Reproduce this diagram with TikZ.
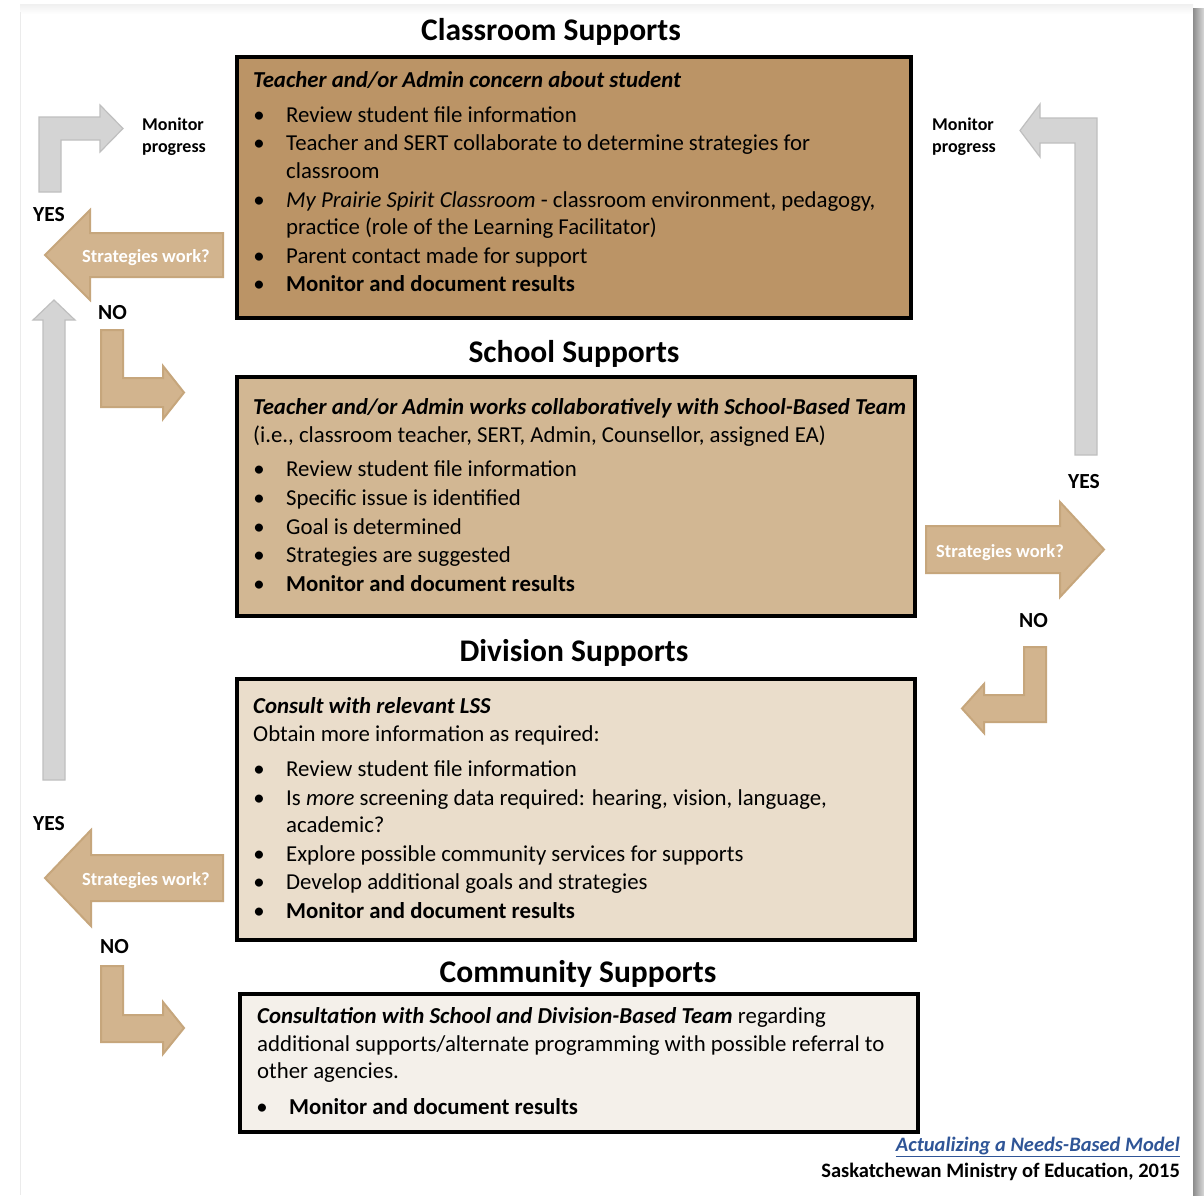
\documentclass[tikz,border=0pt]{standalone}
\usepackage{fontspec}
\setmainfont{Carlito}
\definecolor{boxA}{HTML}{BB9466}
\definecolor{boxB}{HTML}{D2B793}
\definecolor{boxC}{HTML}{EADDCB}
\definecolor{boxD}{HTML}{F4F0EA}
\definecolor{arrowtan}{HTML}{D2B48E}
\definecolor{arrowtanline}{HTML}{C6A67C}
\definecolor{arrowgray}{HTML}{D4D4D4}
\definecolor{arrowgrayline}{HTML}{BFBFBF}
\definecolor{linkblue}{HTML}{2F5597}
\tikzset{
  body/.style={anchor=base west, inner sep=0pt, font=\fontsize{22.8}{27}\selectfont},
  dot/.style={anchor=base, inner sep=0pt, font=\fontsize{22.8}{27}\selectfont},
  title/.style={anchor=base, inner sep=0pt, font=\fontsize{31.5}{36}\selectfont\bfseries},
  tag/.style={anchor=base west, inner sep=0pt, font=\fontsize{21.5}{25}\selectfont\bfseries},
  mon/.style={anchor=base west, inner sep=0pt, font=\fontsize{18}{22}\selectfont\bfseries},
  qlabel/.style={anchor=base, inner sep=0pt, text=white, font=\fontsize{18.5}{22}\selectfont\bfseries},
  foot/.style={anchor=base east, inner sep=0pt, font=\fontsize{20.5}{24}\selectfont\bfseries},
  panel/.style={draw=black, line width=4pt, anchor=north west, inner sep=0pt},
  tanarrow/.style={fill=arrowtan, draw=arrowtanline, line width=2pt},
  grayarrow/.style={fill=arrowgray, draw=arrowgrayline, line width=1.2pt},
}
% bullet item: name, x of bullet, x of text, baseline, text
\newcommand\bitem[5]{%
  \node[dot] (#1-b) at (#2,#4) {•};
  \node[body] (#1) at (#3,#4) {#5};}
\begin{document}
\begin{tikzpicture}[x=1pt,y=-1pt]
\useasboundingbox (0,0) rectangle (1204,1195);
\fill[white] (0,0) rectangle (1204,1195);
% page edges
\shade[top color=black!6, bottom color=white] (20,4) rectangle (1193,14);
\draw[black!8, line width=1pt] (20,12) -- (20,1195);
\shade[left color=black!45, right color=black!15] (1193,8) rectangle (1204,1195);

% ---------------- titles ----------------
\node[title] (t1) at (551,40) {Classroom Supports};
\node[title] (t2) at (574,362) {School Supports};
\node[title] (t3) at (574,661) {Division Supports};
\node[title] (t4) at (578,982) {Community Supports};

% ---------------- panels ----------------
\node[panel, fill=boxA, minimum width=674pt, minimum height=261pt] (classroom) at (235,55) {};
\node[panel, fill=boxB, minimum width=678pt, minimum height=239pt] (school) at (235,375) {};
\node[panel, fill=boxC, minimum width=678pt, minimum height=261pt] (division) at (235,677) {};
\node[panel, fill=boxD, minimum width=678pt, minimum height=138pt] (community) at (238,992) {};

% classroom text
\node[body] (c0) at (253,87) {\textbf{\textit{Teacher and/or Admin concern about student}}};
\bitem{c1}{259}{286}{122}{Review student file information}
\bitem{c2}{259}{286}{150}{Teacher and SERT collaborate to determine strategies for}
\node[body] (c2b) at (286,178) {classroom};
\bitem{c3}{259}{286}{207}{\textit{My Prairie Spirit Classroom} - classroom environment, pedagogy,}
\node[body] (c3b) at (286,234) {practice (role of the Learning Facilitator)};
\bitem{c4}{259}{286}{263}{Parent contact made for support}
\bitem{c5}{259}{286}{291}{\textbf{Monitor and document results}}

% school text
\node[body] (s0) at (253,414) {\textbf{\textit{Teacher and/or Admin works collaboratively with School-Based Team}}};
\node[body] (s0b) at (253,442) {(i.e., classroom teacher, SERT, Admin, Counsellor, assigned EA)};
\bitem{s1}{259}{286}{476}{Review student file information}
\bitem{s2}{259}{286}{505}{Specific issue is identified}
\bitem{s3}{259}{286}{534}{Goal is determined}
\bitem{s4}{259}{286}{562}{Strategies are suggested}
\bitem{s5}{259}{286}{591}{\textbf{Monitor and document results}}

% division text
\node[body] (d0) at (253,713) {\textbf{\textit{Consult with relevant LSS}}};
\node[body] (d0b) at (253,741) {Obtain more information as required:};
\bitem{d1}{259}{286}{776}{Review student file information}
\bitem{d2}{259}{286}{805}{Is \textit{more} screening data required: hearing, vision, language,}
\node[body] (d2b) at (286,832) {academic?};
\bitem{d3}{259}{286}{861}{Explore possible community services for supports}
\bitem{d4}{259}{286}{889}{Develop additional goals and strategies}
\bitem{d5}{259}{286}{918}{\textbf{Monitor and document results}}

% community text
\node[body] (m0) at (257,1023) {\textbf{\textit{Consultation with School and Division-Based Team}} regarding};
\node[body] (m0b) at (257,1051) {additional supports/alternate programming with possible referral to};
\node[body] (m0c) at (257,1078) {other agencies.};
\bitem{m1}{262}{289}{1114}{\textbf{Monitor and document results}}

% ---------------- left side arrows ----------------
\draw[grayarrow] (39,192) -- (39,117) -- (100,117) -- (100,105) -- (123,128.5) -- (100,152) -- (100,140) -- (61,140) -- (61,192) -- cycle;
\node[mon] (monL1) at (142,130) {Monitor};
\node[mon] (monL2) at (142,152) {progress};
\node[tag] (yes1) at (33,221) {YES};
\draw[tanarrow] (223,233) -- (90,233) -- (90,210) -- (45,255) -- (90,300) -- (90,277) -- (223,277) -- cycle;
\node[qlabel] (q1) at (146,262) {Strategies work?};
\node[tag] (no1) at (98,319) {NO};
\draw[tanarrow] (101,330) -- (123,330) -- (123,378) -- (163,378) -- (163,366) -- (184,392.5) -- (163,419) -- (163,407) -- (101,407) -- cycle;
\draw[grayarrow] (43,780) -- (43,320) -- (33,320) -- (54,300) -- (75,320) -- (65,320) -- (65,780) -- cycle;

\node[tag] (yes3) at (33,830) {YES};
\draw[tanarrow] (223,855) -- (91,855) -- (91,830) -- (45,878) -- (91,926) -- (91,901) -- (223,901) -- cycle;
\node[qlabel] (q3) at (146,885) {Strategies work?};
\node[tag] (no3) at (100,953) {NO};
\draw[tanarrow] (101,966) -- (123,966) -- (123,1015) -- (163,1015) -- (163,1002) -- (184,1028) -- (163,1054) -- (163,1042) -- (101,1042) -- cycle;

% ---------------- right side arrows ----------------
\draw[grayarrow] (1075,455) -- (1075,143) -- (1040,143) -- (1040,157) -- (1020,130.5) -- (1040,104) -- (1040,118) -- (1097,118) -- (1097,455) -- cycle;
\node[mon] (monR1) at (932,130) {Monitor};
\node[mon] (monR2) at (932,152) {progress};
\node[tag] (yes2) at (1068,488) {YES};
\draw[tanarrow] (926,526) -- (1060,526) -- (1060,502) -- (1104,549.5) -- (1060,597) -- (1060,573) -- (926,573) -- cycle;
\node[qlabel] (q2) at (1000,557) {Strategies work?};
\node[tag] (no2) at (1019,627) {NO};
\draw[tanarrow] (1024,647) -- (1046,647) -- (1046,722) -- (984,722) -- (984,733) -- (962,708.5) -- (984,684) -- (984,695) -- (1024,695) -- cycle;

% ---------------- source ----------------
\node[foot, text=linkblue] (src1) at (1180,1151) {\textit{\underline{Actualizing a Needs-Based Model}}};
\node[foot] (src2) at (1180,1177) {Saskatchewan Ministry of Education, 2015};
\end{tikzpicture}
\end{document}
